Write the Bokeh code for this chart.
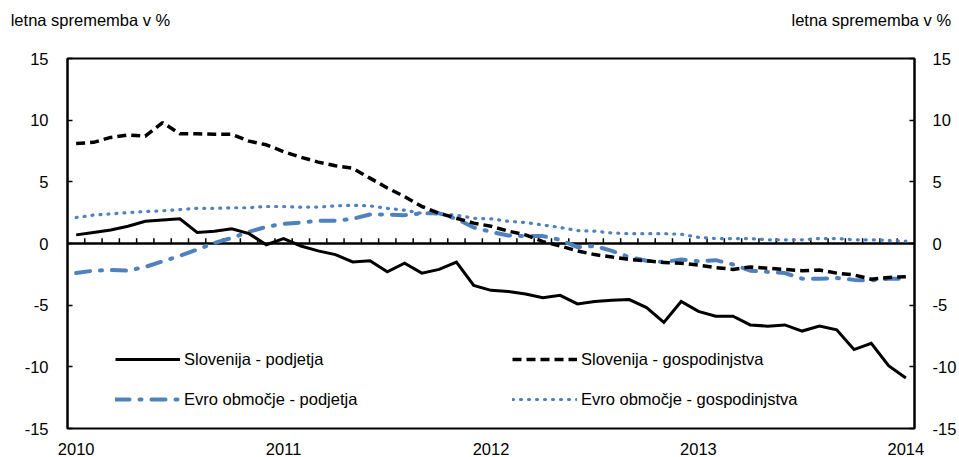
import numpy as np
from bokeh.plotting import figure
from bokeh.models import (Range1d, LinearAxis, FixedTicker, Span,
                          Legend, LegendItem)
from bokeh.embed import file_html
from bokeh.resources import INLINE

# ---------------- data ----------------
year_labels = ["2010", "2011", "2012", "2013", "2014"]
year_positions = [0, 12, 24, 36, 48]          # month index of each January
y_ticks = [-15, -10, -5, 0, 5, 10, 15]
y_tick_labels = ["-15", "-10", "-5", "0", "5", "10", "15"]
unit_label = "letna sprememba v %"

slovenija_podjetja = [
    0.7, 0.9, 1.1, 1.4, 1.8, 1.9, 2.0, 0.9, 1.0, 1.2, 0.8, -0.1,
    0.4, -0.2, -0.6, -0.9, -1.5, -1.4, -2.3, -1.6, -2.4, -2.1, -1.5, -3.4,
    -3.8, -3.9, -4.1, -4.4, -4.2, -4.9, -4.7, -4.6, -4.55, -5.2, -6.4, -4.7,
    -5.5, -5.9, -5.9, -6.6, -6.7, -6.6, -7.1, -6.7, -7.0, -8.6, -8.1, -9.9,
    -10.9]
slovenija_gospodinjstva = [
    8.1, 8.2, 8.6, 8.8, 8.7, 9.8, 8.9, 8.9, 8.85, 8.85, 8.3, 8.0,
    7.45, 7.0, 6.6, 6.3, 6.1, 5.3, 4.5, 3.8, 3.0, 2.45, 2.05, 1.65,
    1.4, 1.0, 0.7, 0.15, -0.2, -0.6, -0.9, -1.1, -1.3, -1.4, -1.55, -1.6,
    -1.75, -1.95, -2.1, -1.9, -2.0, -2.1, -2.2, -2.15, -2.4, -2.55, -2.9, -2.75,
    -2.7]
evro_podjetja = [
    -2.4, -2.2, -2.15, -2.2, -1.9, -1.45, -1.0, -0.5, 0.05, 0.45, 0.95, 1.35,
    1.6, 1.7, 1.85, 1.85, 2.0, 2.35, 2.35, 2.3, 2.45, 2.45, 2.0, 1.3,
    0.95, 0.65, 0.6, 0.6, 0.3, -0.3, -0.2, -0.6, -1.1, -1.4, -1.5, -1.3,
    -1.45, -1.35, -1.7, -2.2, -2.3, -2.4, -2.85, -2.85, -2.8, -2.95, -3.0, -2.85,
    -2.85]
evro_gospodinjstva = [
    2.1, 2.3, 2.4, 2.5, 2.6, 2.65, 2.75, 2.85, 2.85, 2.9, 2.9, 3.0,
    3.0, 2.95, 2.95, 3.05, 3.1, 3.05, 2.85, 2.7, 2.45, 2.4, 2.3, 2.05,
    2.0, 1.8, 1.7, 1.5, 1.3, 1.05, 1.0, 0.85, 0.8, 0.8, 0.8, 0.75,
    0.5, 0.4, 0.4, 0.4, 0.3, 0.3, 0.3, 0.4, 0.4, 0.3, 0.3, 0.25,
    0.2]

FONT = "Liberation Sans"
FS = "16.5px"
BLUE = "#4F81BD"

n = len(slovenija_podjetja)
x = np.arange(n)

p = figure(width=959, height=457, output_backend="svg", toolbar_location=None,
           x_range=Range1d(-0.5, n - 0.5), y_range=Range1d(-15, 15),
           min_border_left=67, min_border_right=43,
           min_border_top=58, min_border_bottom=26)
p.grid.visible = False
p.outline_line_color = "black"
p.outline_line_width = 2
p.background_fill_color = "white"
p.border_fill_color = "white"


def style_text_axis(ax):
    ax.major_label_text_font = FONT
    ax.major_label_text_font_size = FS
    ax.major_label_text_color = "black"
    ax.minor_tick_line_color = None


# bottom axis: year labels only
xa = p.xaxis[0]
xa.ticker = FixedTicker(ticks=year_positions)
xa.major_label_overrides = {t: s for t, s in zip(year_positions, year_labels)}
xa.major_tick_line_color = None
xa.axis_line_color = None
xa.major_label_standoff = 8
style_text_axis(xa)

# top axis: unit labels (left and right)
unit_positions = [0.83, 46.0]
ta = LinearAxis(ticker=FixedTicker(ticks=unit_positions),
                major_label_overrides={t: unit_label for t in unit_positions},
                major_tick_line_color=None, axis_line_color=None,
                major_label_standoff=24)
style_text_axis(ta)
p.add_layout(ta, "above")

# left axis
ya = p.yaxis[0]
ya.ticker = FixedTicker(ticks=y_ticks)
ya.major_label_overrides = {t: s for t, s in zip(y_ticks, y_tick_labels)}
ya.major_tick_in = 5
ya.major_tick_out = 0
ya.axis_line_width = 2
ya.major_tick_line_width = 1.5
ya.major_label_standoff = 19
style_text_axis(ya)

# right axis
ra = LinearAxis(ticker=FixedTicker(ticks=y_ticks),
                major_label_overrides={t: s for t, s in zip(y_ticks, y_tick_labels)},
                major_tick_in=5, major_tick_out=0, axis_line_width=2,
                major_tick_line_width=1.5, major_label_standoff=18)
style_text_axis(ra)
p.add_layout(ra, "right")

# zero line with monthly ticks
p.add_layout(Span(location=0, dimension="width", line_color="black",
                  line_width=2.5, level="underlay"))
bounds = (x - 0.5)[1:]
p.segment(x0=bounds, y0=np.zeros(len(bounds)), x1=bounds,
          y1=np.full(len(bounds), 0.42), line_color="black", line_width=1.5,
          level="underlay")

# series
r_ea_g = p.line(x, evro_gospodinjstva, line_color=BLUE, line_width=3.2,
                line_dash="1 7", line_cap="round")
r_ea_p = p.line(x, evro_podjetja, line_color=BLUE, line_width=4,
                line_dash="14 10 2 10", line_cap="round")
r_slo_g = p.line(x, slovenija_gospodinjstva, line_color="black", line_width=3.5,
                 line_dash="9 5")
r_slo_p = p.line(x, slovenija_podjetja, line_color="black", line_width=3,
                 line_join="miter")

legend = Legend(items=[
    LegendItem(label="Slovenija - podjetja", renderers=[r_slo_p]),
    LegendItem(label="Evro območje - podjetja", renderers=[r_ea_p]),
    LegendItem(label="Slovenija - gospodinjstva", renderers=[r_slo_g]),
    LegendItem(label="Evro območje - gospodinjstva", renderers=[r_ea_g]),
], location=(48, 19), ncols=2, padding=0, margin=0, spacing=20,
    glyph_width=65, glyph_height=20, label_height=20, label_standoff=4,
    label_width=308, border_line_color=None, background_fill_alpha=0,
    label_text_font=FONT, label_text_font_size=FS, label_text_color="black")
p.add_layout(legend, "center")

open("out.html", "w").write(file_html(p, INLINE))
